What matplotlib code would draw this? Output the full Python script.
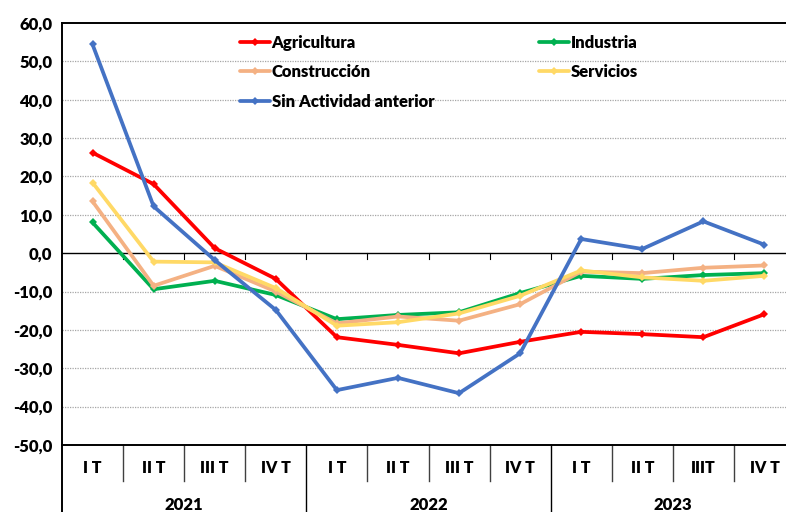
import matplotlib
matplotlib.use("Agg")
import matplotlib.pyplot as plt
import matplotlib.transforms as mtransforms

plt.rcParams['font.family'] = ['Lato', 'DejaVu Sans']
plt.rcParams['font.weight'] = 'heavy'
FW = 'heavy'

quarters = ["I T", "II T", "III T", "IV T", "I T", "II T", "III T", "IV T",
            "I T", "II T", "IIIT", "IV T"]
years = ["2021", "2022", "2023"]

agricultura = [26.2, 18.0, 1.3, -6.7, -21.9, -23.9, -26.1, -23.1, -20.5, -21.1, -21.9, -15.9]
industria = [8.0, -9.4, -7.2, -10.9, -17.2, -16.1, -15.4, -10.4, -5.9, -6.7, -5.7, -5.2]
construccion = [13.5, -8.5, -3.3, -10.0, -18.3, -16.5, -17.6, -13.3, -4.8, -5.2, -3.8, -3.2]
servicios = [18.4, -2.2, -2.4, -9.1, -18.9, -18.0, -15.7, -11.1, -4.5, -6.3, -7.2, -5.9]
sin_actividad = [54.4, 12.2, -1.8, -14.8, -35.7, -32.5, -36.5, -26.1, 3.7, 1.1, 8.3, 2.2]

series = [
    ("Agricultura", agricultura, "#FF0000"),
    ("Industria", industria, "#00B050"),
    ("Construcción", construccion, "#F4B183"),
    ("Servicios", servicios, "#FFD966"),
    ("Sin Actividad anterior", sin_actividad, "#4472C4"),
]

W, H = 786, 512
fig = plt.figure(figsize=(W / 100, H / 100), dpi=100)
left, right, top, bottom = 62, 795, 23, 445
ax = fig.add_axes([left / W, 1 - bottom / H, (right - left) / W, (bottom - top) / H])

x = list(range(len(quarters)))
handles = {}
for i, (name, vals, col) in enumerate(series):
    h, = ax.plot(x, vals, color=col, lw=2.7, marker='D', ms=3.8,
                 markeredgewidth=0, label=name, zorder=3 + i, solid_capstyle='round')
    handles[name] = h

ax.set_xlim(-0.5, len(quarters) - 0.5)
ax.set_ylim(-50, 60)
yt = list(range(-50, 61, 10))
ax.set_yticks(yt)
ax.set_yticklabels([f"{v:.1f}".replace(".", ",") for v in yt], fontsize=12, fontweight=FW)
ax.tick_params(axis='y', length=0, pad=7)
ax.set_xticks([])

for v in yt:
    if v not in (-50, 0, 60):
        ax.axhline(v, color='#A6A6A6', lw=0.9, ls=(0, (1, 1)), zorder=1)
ax.axhline(0, color='black', lw=1.0, zorder=2)
# small tick marks on the zero axis at category boundaries
for b in range(1, len(quarters)):
    ax.plot([b - 0.5, b - 0.5], [0, -1.6], color='black', lw=0.8, zorder=2)

ax.spines['right'].set_visible(False)
for s in ['top', 'bottom', 'left']:
    ax.spines[s].set_linewidth(1.4)
    ax.spines[s].set_color('black')

trans = mtransforms.blended_transform_factory(ax.transData, ax.transAxes)
axh = bottom - top
y_sep_short = -(481 - bottom) / axh
y_sep_long = -(H - bottom) / axh
y_q = -(468 - bottom) / axh
y_y = -(505 - bottom) / axh

for b in range(1, len(quarters)):
    xb = b - 0.5
    if b % 4 == 0:
        ax.plot([xb, xb], [0, y_sep_long], transform=trans, color='black', lw=1.0, clip_on=False)
    else:
        ax.plot([xb, xb], [0, y_sep_short], transform=trans, color='#404040', lw=1.0, clip_on=False)
ax.plot([-0.5, -0.5], [0, y_sep_long], transform=trans, color='black', lw=1.4, clip_on=False)

for i, q in enumerate(quarters):
    ax.text(i, y_q, q, transform=trans, ha='center', va='center', fontsize=11.5, fontweight=FW)
for j, yr in enumerate(years):
    ax.text(4 * j + 1.5, y_y, yr, transform=trans, ha='center', va='center', fontsize=12, fontweight=FW)

order = ["Agricultura", "Construcción", "Sin Actividad anterior", "Industria", "Servicios"]
leg = fig.legend([handles[n] for n in order], order, ncol=2, frameon=False,
                 loc='upper left', bbox_to_anchor=(240 / W, 1 - 35 / H),
                 bbox_transform=fig.transFigure,
                 prop={'size': 12, 'weight': FW}, handlelength=1.8,
                 handletextpad=0.1, labelspacing=0.8, columnspacing=6.3,
                 borderpad=0, borderaxespad=0)

fig.savefig("out.png", dpi=100)
